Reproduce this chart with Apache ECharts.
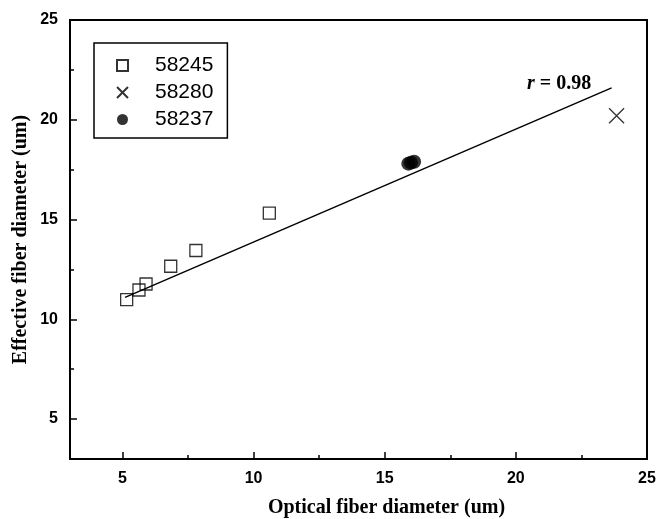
<!DOCTYPE html>
<html>
<head>
<meta charset="utf-8">
<script src="https://cdn.jsdelivr.net/npm/echarts@6/dist/echarts.min.js"></script>
<style>
  html,body{margin:0;padding:0;background:#fff;}
  #main{width:659px;height:519px;}
</style>
</head>
<body>
<div id="main"></div>
<script>
// 数据
const sq58245 = [[5.16,10.99],[5.63,11.47],[5.90,11.77],[6.84,12.66],[7.80,13.45],[10.60,15.32]];
const x58280 = [[23.84,20.2]];
const dot58237 = [[15.9,17.8],[16.0,17.85],[16.12,17.9]];
const fitLine = [[5.1,11.1],[23.65,21.6]];  // 回归线
const majorTicks = [5,10,15,20,25];
const minorTicks = [7.5,12.5,17.5,22.5];
const legendNames = ['58245','58280','58237'];

let chart = echarts.init(document.getElementById('main'));

const tickLabel = {
  fontFamily: 'Liberation Sans, Arial, sans-serif',
  fontWeight: 'bold',
  fontSize: 16,
  color: '#000'
};
const titleFont = {
  fontFamily: 'Liberation Serif, Times New Roman, serif',
  fontWeight: 'bold',
  fontSize: 20,
  color: '#000'
};

function majorAxis(extra){
  return Object.assign({
    type: 'value',
    min: 3,
    max: 25,
    splitLine: {show: false},
    axisLine: {show: true, lineStyle: {color: '#000', width: 2}},
    axisTick: {show: true, inside: true, length: 7, lineStyle: {color: '#000', width: 1.5}, customValues: majorTicks},
    axisLabel: Object.assign({customValues: majorTicks, margin: 12}, tickLabel),
    nameMoveOverlap: false
  }, extra);
}
function minorAxis(extra){
  return Object.assign({
    type: 'value',
    min: 3,
    max: 25,
    splitLine: {show: false},
    axisLine: {show: false},
    axisTick: {show: true, inside: true, length: 4, lineStyle: {color: '#000', width: 1.5}, customValues: minorTicks},
    axisLabel: {show: false}
  }, extra);
}

let option = {
  animation: false,
  backgroundColor: '#fff',
  grid: {
    left: 70, right: 12, top: 20, bottom: 60,
    containLabel: false,
    outerBoundsMode: 'none',
    show: true, borderColor: '#000', borderWidth: 2
  },
  legend: {
    data: legendNames,
    orient: 'vertical',
    left: 94,
    top: 43,
    padding: [12, 14, 8, 22],
    itemWidth: 11,
    itemHeight: 11,
    itemGap: 6,
    borderColor: '#000',
    borderWidth: 1.5,
    textStyle: {
      fontFamily: 'Liberation Sans, Arial, sans-serif',
      fontSize: 21,
      lineHeight: 20,
      color: '#000',
      padding: [0, 0, 0, 22]
    }
  },
  xAxis: [
    majorAxis({
      name: 'Optical fiber diameter (um)',
      nameLocation: 'middle',
      nameGap: 39,
      nameTextStyle: Object.assign({padding: [0, 0, 0, 56]}, titleFont)
    }),
    minorAxis({position: 'bottom'})
  ],
  yAxis: [
    majorAxis({
      name: 'Effective fiber diameter (um)',
      nameLocation: 'middle',
      nameGap: 39,
      nameTextStyle: Object.assign({padding: [0, 0, 0, 0]}, titleFont)
    }),
    minorAxis({position: 'left'})
  ],
  graphic: [{
    type: 'text',
    left: 527,
    top: 74,
    style: {
      text: '{i|r} = 0.98',
      fontFamily: 'Liberation Serif, Times New Roman, serif',
      fontWeight: 'bold',
      fontSize: 20,
      fill: '#000',
      rich: {
        i: {fontStyle: 'italic', fontWeight: 'bold', fontFamily: 'Liberation Serif, serif', fontSize: 20}
      }
    }
  }],
  series: [
    {
      name: 'fit',
      type: 'line',
      data: fitLine,
      showSymbol: false,
      lineStyle: {color: '#000', width: 1.5},
      z: 1
    },
    {
      name: '58245',
      type: 'scatter',
      data: sq58245,
      symbol: 'rect',
      symbolSize: 12,
      itemStyle: {color: 'rgba(0,0,0,0)', borderColor: '#000', borderWidth: 1.3},
      z: 3
    },
    {
      name: '58280',
      type: 'scatter',
      data: x58280,
      symbol: 'path://M0,0L10,10M10,0L0,10',
      symbolSize: 15,
      itemStyle: {color: 'rgba(0,0,0,0)', borderColor: '#000', borderWidth: 1.3},
      z: 3
    },
    {
      name: '58237',
      type: 'scatter',
      data: dot58237,
      symbol: 'circle',
      symbolSize: 14,
      itemStyle: {color: '#000'},
      z: 3
    }
  ]
};

chart.setOption(option);
</script>
</body>
</html>
